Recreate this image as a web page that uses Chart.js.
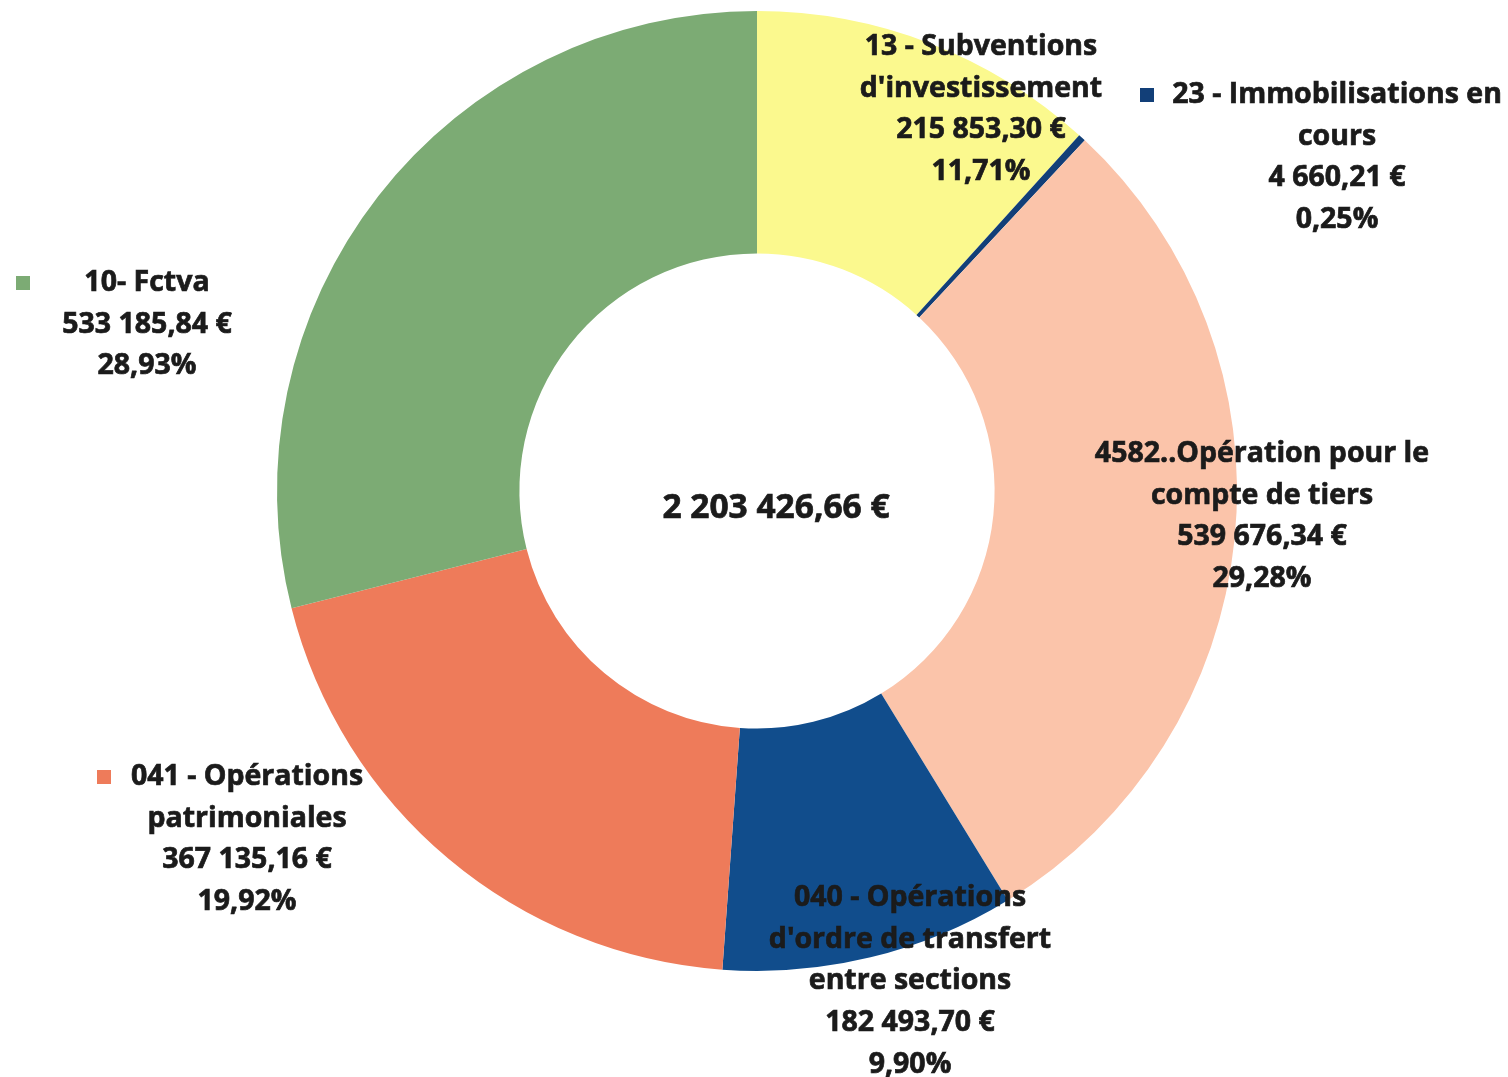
<!DOCTYPE html>
<html lang="fr">
<head>
    <meta charset="UTF-8">
    <title>Recettes d'investissement</title>
    <script src="https://cdn.jsdelivr.net/npm/chart.js"></script>
    <style>
        body {
            margin: 0;
            background: #fff;
        }
        #wrap {
            width: 1508px;
            height: 1077px;
        }
    </style>
</head>
<body>
    <div id="wrap">
        <canvas id="donut" width="1508" height="1077"></canvas>
    </div>

    <script>
        // data, clockwise from 12 o'clock
        const categories = [
            "13 - Subventions d'investissement",
            '23 - Immobilisations en cours',
            '4582..Opération pour le compte de tiers',
            "040 - Opérations d'ordre de transfert entre sections",
            '041 - Opérations patrimoniales',
            '10- Fctva'
        ];
        const amounts = [215853.30, 4660.21, 539676.34, 182493.70, 367135.16, 533185.84];
        const amountLabels = ['215 853,30 €', '4 660,21 €', '539 676,34 €', '182 493,70 €', '367 135,16 €', '533 185,84 €'];
        const percentLabels = ['11,71%', '0,25%', '29,28%', '9,90%', '19,92%', '28,93%'];
        const totalLabel = '2 203 426,66 €';

        const colors = ['#fbf98e', '#123f78', '#fbc4aa', '#114d8c', '#ee7b5a', '#7cab74'];

        // how each label is wrapped, where it sits and where its legend square goes (if any)
        const labelLines = [
            ['13 - Subventions', "d'investissement"],
            ['23 - Immobilisations en', 'cours'],
            ['4582..Opération pour le', 'compte de tiers'],
            ['040 - Opérations', "d'ordre de transfert", 'entre sections'],
            ['041 - Opérations', 'patrimoniales'],
            ['10- Fctva']
        ];
        const labelPos = [
            { x: 981, y: 47 },
            { x: 1337, y: 95, keyX: 1140 },
            { x: 1262, y: 454 },
            { x: 910, y: 898 },
            { x: 247, y: 777, keyX: 97 },
            { x: 147, y: 283, keyX: 16 }
        ];

        const lineH = 41.6;
        const labelFont = 'bold 28.5px "Open Sans", sans-serif';

        function boldText(ctx, txt, x, y) {
            ctx.fillText(txt, x, y);
            ctx.strokeText(txt, x, y);
        }

        const labelPlugin = {
            id: 'sliceLabels',
            afterDraw(chart) {
                const ctx = chart.ctx;
                ctx.save();
                ctx.textAlign = 'center';
                ctx.textBaseline = 'middle';
                ctx.font = labelFont;
                ctx.lineWidth = 0.7;
                ctx.strokeStyle = '#1b1b1b';

                labelPos.forEach((p, i) => {
                    const lines = labelLines[i].concat([amountLabels[i], percentLabels[i]]);
                    if (p.keyX !== undefined) {
                        ctx.fillStyle = colors[i];
                        ctx.fillRect(p.keyX, p.y - 7, 14, 14);
                    }
                    ctx.fillStyle = '#1b1b1b';
                    lines.forEach((txt, k) => {
                        boldText(ctx, txt, p.x, p.y + k * lineH);
                    });
                });

                // total in the hole
                const arc = chart.getDatasetMeta(0).data[0];
                ctx.font = 'bold 33.5px "Open Sans", sans-serif';
                boldText(ctx, totalLabel, arc.x + 19, arc.y + 17);
                ctx.restore();
            }
        };

        new Chart(document.getElementById('donut').getContext('2d'), {
            type: 'doughnut',
            data: {
                labels: categories,
                datasets: [{
                    data: amounts,
                    backgroundColor: colors,
                    borderWidth: 0
                }]
            },
            options: {
                responsive: false,
                animation: false,
                cutout: '49.5%',
                layout: {
                    padding: { top: 11, bottom: 106, left: 277, right: 271 }
                },
                plugins: {
                    legend: { display: false },
                    tooltip: { enabled: false }
                }
            },
            plugins: [labelPlugin]
        });
    </script>
</body>
</html>
